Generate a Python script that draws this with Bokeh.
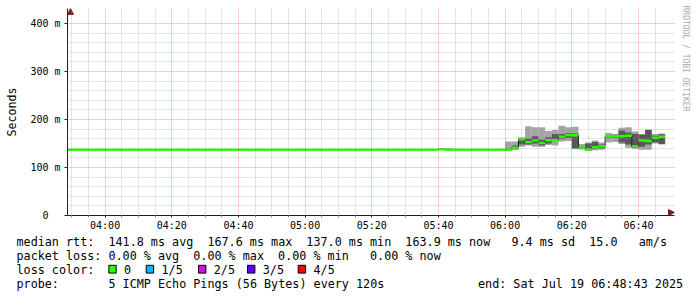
import math
from bokeh.plotting import figure
from bokeh.models import Range1d, FixedTicker, Arrow, NormalHead, ColumnDataSource, Title
from bokeh.layouts import column
from bokeh.embed import file_html
from bokeh.resources import INLINE
from bokeh.core.properties import value

# ---------------- data ----------------
range_start = "03:48:43"
range_end = "06:48:43"
step_start = ["03:48", "05:40", "05:42", "05:44",
              "06:00", "06:02", "06:04", "06:06", "06:08", "06:10", "06:12", "06:14",
              "06:16", "06:18", "06:20", "06:22", "06:24", "06:26", "06:28", "06:30",
              "06:32", "06:34", "06:36", "06:38", "06:40", "06:42", "06:44", "06:46"]
last_step_end = "06:48"
ping_1 = [137, 137, 137, 137,
          137, 137, 143, 146, 143, 143, 147, 146,
          154, 155, 138, 137.5, 135, 136, 137, 152,
          153, 149, 141, 139, 137, 137, 150, 148]
ping_2 = [137, 137.5, 137, 137,
          137, 138, 148, 148, 150, 146, 150, 155,
          160, 162, 140, 139, 136, 139, 140, 162,
          162, 152, 148, 141, 143, 148, 152, 149]
median_rtt = [137, 138, 137, 137,
              137.2, 141, 159, 153, 156, 151, 157, 157,
              164, 167.6, 167, 141.5, 137.5, 142, 144, 165,
              165, 165, 166, 143.5, 156, 155, 162, 163.9]
ping_4 = [137, 138.5, 138, 137,
          139, 146, 161, 160, 165, 158, 163, 170,
          170, 172, 171, 144, 150, 153, 148, 167,
          168, 177, 173, 170, 168, 178, 166, 169]
ping_5 = [137, 140, 140, 137,
          154, 154, 163, 186, 184, 184, 176, 178,
          187, 184, 185, 149, 152, 156, 152, 172,
          170, 183, 184, 175, 170, 179, 170, 171]
loss_count = [0, 0, 0, 0,
              0, 0, 0, 0, 0, 0, 0, 0,
              0, 0, 0, 0, 0, 0, 0, 0,
              0, 0, 0, 0, 0, 0, 0, 0]

loss_colors = ["#26ff00", "#00b8ff", "#dd00ff", "#5e00ff", "#ff0000"]
loss_labels = ["0", "1/5", "2/5", "3/5", "4/5"]

x_tick_labels = ["04:00", "04:20", "04:40", "05:00", "05:20", "05:40", "06:00", "06:20", "06:40"]
y_tick_values = [0, 100, 200, 300, 400]
y_tick_labels = ["0\u00a0\u00a0", "100 m", "200 m", "300 m", "400 m"]
y_top = 420.8          # top of the graph area (ms)

rtt_avg, rtt_max, rtt_min, rtt_now, rtt_sd, rtt_am = 141.8, 167.6, 137.0, 163.9, 9.4, 15.0
loss_avg, loss_max, loss_min, loss_now = 0.00, 0.00, 0.00, 0.00
probe_text = "5 ICMP Echo Pings (56 Bytes) every 120s"
end_text = "end: Sat Jul 19 06:48:43 2025"
watermark = "RRDTOOL / TOBI OETIKER"

# ---------------- helpers ----------------
def to_min(s):
    parts = [int(v) for v in s.split(":")]
    h, m = parts[0], parts[1]
    sec = parts[2] if len(parts) > 2 else 0
    return h * 60 + m + sec / 60.0

t0, t1 = to_min(range_start), to_min(range_end)
lefts = [to_min(s) for s in step_start]
rights = lefts[1:] + [to_min(last_step_end)]

src = ColumnDataSource(dict(
    left=lefts, right=rights, p1=ping_1, p2=ping_2, med=median_rtt,
    p4=ping_4, p5=ping_5, lc=[loss_colors[c] for c in loss_count]))

MONO = "DejaVu Sans Mono"
GRAPH_W, GRAPH_H = 600, 202          # pixel size of the rrd graph area
EXT_R, EXT_T = 7, 5                  # room for the axis arrows
min_per_px = (t1 - t0) / GRAPH_W
ms_per_px = y_top / GRAPH_H

# ---------------- main graph ----------------
p = figure(width=697, height=234,
           x_range=Range1d(t0, t1 + EXT_R * min_per_px),
           y_range=Range1d(0, y_top + EXT_T * ms_per_px),
           output_backend="svg", toolbar_location=None, title=None,
           min_border_left=67, min_border_right=697 - 67 - GRAPH_W - EXT_R,
           min_border_top=13 - EXT_T, min_border_bottom=19,
           background_fill_color="white", border_fill_color="white")
p.outline_line_color = None
p.frame_align = False

p.quad(left="left", right="right", bottom="p1", top="p5", source=src,
       fill_color="#a4a4a4", line_color=None)
p.quad(left="left", right="right", bottom="p2", top="p4", source=src,
       fill_color="#585858", line_color=None)
p.step(x=lefts + [rights[-1]], y=median_rtt + [median_rtt[-1]], mode="after",
       line_color="#202020", line_width=1)
p.segment(x0="left", y0="med", x1="right", y1="med", source=src,
          line_color="lc", line_width=2.5, line_cap="butt")

x_ticks = [int(round(to_min(s))) for s in x_tick_labels]
x_minor = [m for m in range(int(math.ceil(t0 / 5.0)) * 5, int(t1) + 1, 5) if m % 20 != 0]
y_minor = [v for v in range(20, int(y_top), 20) if v % 100 != 0]

p.xaxis.ticker = FixedTicker(ticks=x_ticks, minor_ticks=x_minor)
p.xaxis.major_label_overrides = {k: lab for k, lab in zip(x_ticks, x_tick_labels)}
p.yaxis.ticker = FixedTicker(ticks=y_tick_values, minor_ticks=y_minor)
p.yaxis.major_label_overrides = {k: lab for k, lab in zip(y_tick_values, y_tick_labels)}

for ax in (p.xaxis[0], p.yaxis[0]):
    ax.axis_line_color = "#1f1f1f"
    ax.major_tick_line_color = "#1f1f1f"
    ax.minor_tick_line_color = "#8f8f8f"
    ax.major_tick_in = 0
    ax.minor_tick_in = 0
    ax.major_label_text_font = MONO
    ax.major_label_text_font_size = "10px"
    ax.major_label_text_color = "black"

p.xaxis.major_tick_out = 2
p.xaxis.minor_tick_out = 2
p.xaxis.major_label_standoff = 2
p.yaxis.major_tick_out = 3
p.yaxis.minor_tick_out = 0
p.yaxis.major_label_standoff = 4
p.yaxis.axis_label = "Seconds"
p.yaxis.axis_label_text_font = MONO
p.yaxis.axis_label_text_font_size = "11.6px"
p.yaxis.axis_label_text_font_style = "normal"
p.yaxis.axis_label_text_color = "black"
p.yaxis.axis_label_standoff = 8

for g in (p.xgrid[0], p.ygrid[0]):
    g.level = "overlay"
    g.grid_line_color = "#de4f4f"
    g.grid_line_alpha = 0.55
    g.grid_line_dash = "1 1"
    g.minor_grid_line_color = "#8f8f8f"
    g.minor_grid_line_alpha = 0.45
    g.minor_grid_line_dash = "1 1"

arrow_col = "#801f1f"
p.add_layout(Arrow(end=NormalHead(size=6, fill_color=arrow_col, line_color=arrow_col),
                   x_start=t1, y_start=3 * ms_per_px,
                   x_end=t1 + EXT_R * min_per_px, y_end=3 * ms_per_px,
                   line_color=None))
p.add_layout(Arrow(end=NormalHead(size=6, fill_color=arrow_col, line_color=arrow_col),
                   x_start=t0 + 3 * min_per_px, y_start=y_top,
                   x_end=t0 + 3 * min_per_px, y_end=y_top + EXT_T * ms_per_px,
                   line_color=None))

p.add_layout(Title(text=watermark, align="left", vertical_align="middle", offset=-3,
                   standoff=10, text_font=MONO, text_font_size="8px",
                   text_font_style="normal", text_color="#aaaaaa"), "right")

# ---------------- legend block ----------------
lp = figure(width=697, height=63, x_range=Range1d(0, 697), y_range=Range1d(63, 0),
            output_backend="svg", toolbar_location=None, title=None,
            x_axis_location=None, y_axis_location=None, min_border=0,
            background_fill_color="white", border_fill_color="white")
lp.outline_line_color = None
lp.frame_align = False
lp.xgrid.visible = False
lp.ygrid.visible = False

x0, cw = 16.0, 7.07
row_y = [7, 21, 35, 49]
pieces = [
    ("median rtt:", 0, 0),
    ("%.1f ms avg" % rtt_avg, 13, 0),
    ("%.1f ms max" % rtt_max, 27, 0),
    ("%.1f ms min" % rtt_min, 41, 0),
    ("%.1f ms now" % rtt_now, 55, 0),
    ("%.1f ms sd" % rtt_sd, 70, 0),
    ("%.1f" % rtt_am, 81, 0),
    ("am/s", 88, 0),
    ("packet loss:", 0, 1),
    ("%.2f %% avg" % loss_avg, 13, 1),
    ("%.2f %% max" % loss_max, 25, 1),
    ("%.2f %% min" % loss_min, 37, 1),
    ("%.2f %% now" % loss_now, 50, 1),
    ("loss color:", 0, 2),
    ("probe:", 0, 3),
    (probe_text, 13, 3),
]
tx = [x0 + c * cw for _, c, _ in pieces] + [477.5]
ty = [row_y[r] for _, _, r in pieces] + [row_y[3]]
tt = [t for t, _, _ in pieces] + [end_text]

loss_box_x = [108.3, 145.7, 198.0, 247.0, 297.7]
lp.quad(left=loss_box_x, right=[b + 7.4 for b in loss_box_x],
        top=[row_y[2] - 4.2] * 5, bottom=[row_y[2] + 3.6] * 5,
        fill_color=loss_colors, line_color="black", line_width=1)
tx += [b + 15.3 for b in loss_box_x]
ty += [row_y[2]] * 5
tt += loss_labels

lp.text(x=tx, y=ty, text=tt, text_font=value(MONO), text_font_size=value("11.75px"),
        text_baseline="middle", text_align="left", text_color="black")

layout = column(p, lp, spacing=0)
open("out.html", "w").write(file_html(layout, INLINE))
